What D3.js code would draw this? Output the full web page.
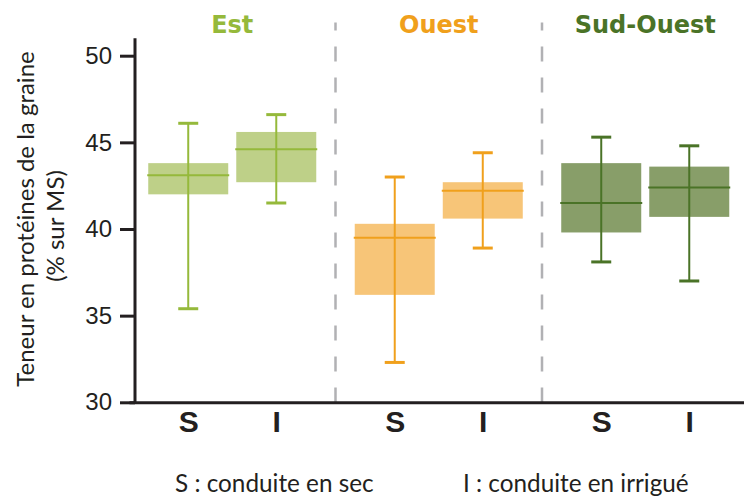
<!DOCTYPE html>
<html>
<head>
<meta charset="utf-8">
<script src="https://cdn.jsdelivr.net/npm/d3@7"></script>
<style>
  body { margin: 0; background: #fff; }
  svg { display: block; font-family: Lato, "Open Sans", sans-serif; }
  .domain { stroke: #231f20; stroke-width: 3px; }
</style>
</head>
<body>
<svg width="744" height="500"></svg>
<script>
// **** Data ****
const regions = ['Est', 'Ouest', 'Sud-Ouest'];
const conduites = ['S', 'I'];
const yTicks = [30, 35, 40, 45, 50];

// one value per box, order: Est S, Est I, Ouest S, Ouest I, Sud-Ouest S, Sud-Ouest I
const whiskerLow  = [35.4, 41.5, 32.3, 38.9, 38.1, 37.0];
const boxLow      = [42.0, 42.7, 36.2, 40.6, 39.8, 40.7];
const medianVals  = [43.1, 44.6, 39.5, 42.2, 41.5, 42.4];
const boxHigh     = [43.8, 45.6, 40.3, 42.7, 43.8, 43.6];
const whiskerHigh = [46.1, 46.6, 43.0, 44.4, 45.3, 44.8];

// **** Colours ****
const lineColor = {'Est': '#95b93b', 'Ouest': '#f0a01c', 'Sud-Ouest': '#4a7327'};
const fillColor = {'Est': '#bed088', 'Ouest': '#f7c578', 'Sud-Ouest': '#889e69'};

// **** Scales ****
const svg = d3.select('svg');

const yScale = d3.scaleLinear().domain([30, 50]).range([402.3, 55.7]);

const groupScale = d3.scaleBand().domain(regions).range([129, 748.5]);

const innerScale = d3.scalePoint().domain(conduites)
    .range([0, groupScale.bandwidth()]).padding(0.673);

const boxWidth = 80;
const capWidth = 20;

// **** Separators ****
svg.selectAll('.sep').data(regions.slice(1)).enter()
    .append('line')
    .attr('class', 'sep')
    .attr('x1', d => groupScale(d)).attr('x2', d => groupScale(d))
    .attr('y1', 22.5).attr('y2', yScale(30))
    .attr('stroke', '#b1b1b4')
    .attr('stroke-width', 2.5)
    .attr('stroke-dasharray', '15,16')
    .attr('stroke-dashoffset', 7);

// **** Boxes ****
const boxes = [];
regions.forEach((r, i) => {
    conduites.forEach((c, j) => {
        const k = i * 2 + j;
        boxes.push({region: r, conduite: c,
            wl: whiskerLow[k], bl: boxLow[k], med: medianVals[k],
            bh: boxHigh[k], wh: whiskerHigh[k]});
    });
});

const g = svg.selectAll('.box').data(boxes).enter()
    .append('g')
    .attr('class', 'box')
    .attr('transform', d => `translate(${groupScale(d.region) + innerScale(d.conduite)},0)`);

g.append('rect')
    .attr('x', -boxWidth / 2)
    .attr('width', boxWidth)
    .attr('y', d => yScale(d.bh))
    .attr('height', d => yScale(d.bl) - yScale(d.bh))
    .attr('fill', d => fillColor[d.region]);

g.append('line')
    .attr('x1', 0).attr('x2', 0)
    .attr('y1', d => yScale(d.wh)).attr('y2', d => yScale(d.wl))
    .attr('stroke', d => lineColor[d.region])
    .attr('stroke-width', 2);

g.append('line')
    .attr('x1', -boxWidth / 2 - 1).attr('x2', boxWidth / 2 + 1)
    .attr('y1', d => yScale(d.med)).attr('y2', d => yScale(d.med))
    .attr('stroke', d => lineColor[d.region])
    .attr('stroke-width', 2);

g.append('line')
    .attr('x1', -capWidth / 2).attr('x2', capWidth / 2)
    .attr('y1', d => yScale(d.wh)).attr('y2', d => yScale(d.wh))
    .attr('stroke', d => lineColor[d.region])
    .attr('stroke-width', 3);

g.append('line')
    .attr('x1', -capWidth / 2).attr('x2', capWidth / 2)
    .attr('y1', d => yScale(d.wl)).attr('y2', d => yScale(d.wl))
    .attr('stroke', d => lineColor[d.region])
    .attr('stroke-width', 3);

// **** Axes ****
const yAxis = svg.append('g')
    .attr('transform', 'translate(135,0)')
    .call(d3.axisLeft(yScale).tickValues(yTicks).tickSize(15).tickPadding(8));
yAxis.select('.domain').remove();
yAxis.selectAll('.tick line').attr('stroke', '#231f20').attr('stroke-width', 3);
yAxis.selectAll('.tick text')
    .attr('fill', '#231f20')
    .style('font-size', '24px');

svg.append('line')
    .attr('x1', 135).attr('x2', 135)
    .attr('y1', yScale(51)).attr('y2', yScale(30))
    .attr('stroke', '#231f20').attr('stroke-width', 3);

const xAxis = svg.append('g')
    .attr('transform', `translate(0,${yScale(30)})`)
    .call(d3.axisBottom(groupScale).tickSize(0).tickFormat(''));
xAxis.selectAll('.tick').remove();

regions.forEach(r => {
    const ax = svg.append('g')
        .attr('transform', `translate(${groupScale(r)},${yScale(30)})`)
        .call(d3.axisBottom(innerScale).tickSize(0).tickPadding(8));
    ax.select('.domain').remove();
    ax.selectAll('.tick text')
        .attr('fill', '#231f20')
        .style('font-size', '30px')
        .style('font-weight', 'bold');
});

// **** Titles ****
svg.selectAll('.title').data(regions).enter()
    .append('text')
    .attr('class', 'title')
    .attr('x', d => groupScale(d) + groupScale.bandwidth() / 2)
    .attr('y', 33)
    .attr('text-anchor', 'middle')
    .style('font-family', '"DejaVu Sans", sans-serif')
    .style('font-size', '24px')
    .style('font-weight', 'bold')
    .attr('fill', d => lineColor[d])
    .text(d => d);

// **** Labels ****
svg.append('text')
    .attr('transform', 'translate(34,219) rotate(-90)')
    .attr('text-anchor', 'middle')
    .style('font-size', '24px')
    .attr('fill', '#231f20')
    .text('Teneur en protéines de la graine');

svg.append('text')
    .attr('transform', 'translate(64,226) rotate(-90)')
    .attr('text-anchor', 'middle')
    .style('font-size', '24px')
    .attr('fill', '#231f20')
    .text('(% sur MS)');

svg.append('text')
    .attr('x', 175).attr('y', 492)
    .style('font-size', '24.3px')
    .attr('fill', '#231f20')
    .text('S : conduite en sec');

svg.append('text')
    .attr('x', 463).attr('y', 492)
    .style('font-size', '24.3px')
    .attr('fill', '#231f20')
    .text('I : conduite en irrigué');
</script>
</body>
</html>
